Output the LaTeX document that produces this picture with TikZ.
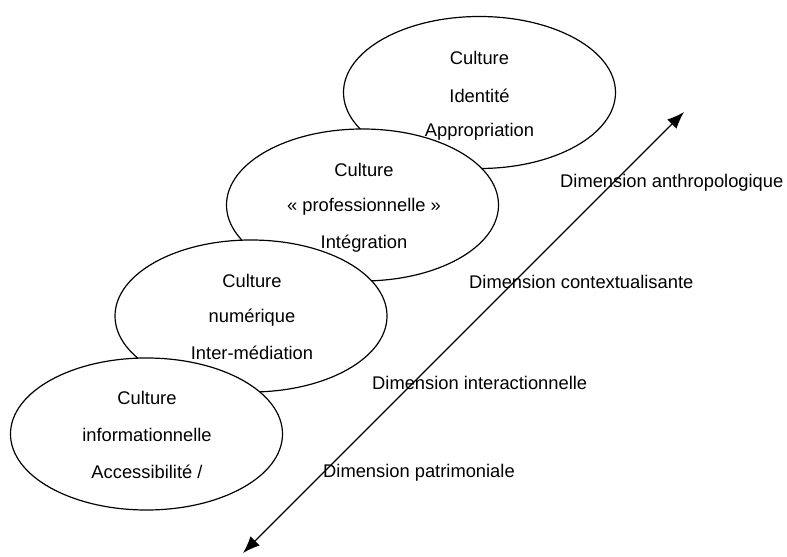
\documentclass[tikz,border=0pt]{standalone}
\usepackage{fontspec}
\setmainfont{Liberation Sans}
\usetikzlibrary{shapes.geometric,arrows.meta}
\begin{document}
\begin{tikzpicture}[x=1bp,y=-1bp,
  blob/.style={draw,fill=white,ellipse,line width=1.2bp,minimum width=272bp,minimum height=152bp,inner sep=0pt},
  lbl/.style={inner sep=0pt,font=\fontsize{18.4}{22}\selectfont},
  dim/.style={lbl,anchor=west},
  axis/.style={line width=1.2bp,{Latex[length=17bp,width=13bp]}-{Latex[length=17bp,width=13bp]}}]
\useasboundingbox (0,0) rectangle (787,557);
\node[blob] (e1) at (479.5,92.5) {};
\node[blob] (e2) at (362.5,205) {};
\node[blob] (e3) at (251,316) {};
\node[blob] (e4) at (146.5,434) {};
\node[lbl] (t1a) at (479.5,58) {Culture};
\node[lbl] (t1b) at (479.5,96) {Identité};
\node[lbl] (t1c) at (479.5,132) {Appropriation};
\node[lbl] (t2a) at (364,170) {Culture};
\node[lbl] (t2b) at (364,207) {« professionnelle »};
\node[lbl] (t2c) at (364,244) {Intégration};
\node[lbl] (t3a) at (252,281) {Culture};
\node[lbl] (t3b) at (252,318) {numérique};
\node[lbl] (t3c) at (252,353) {Inter-médiation};
\node[lbl] (t4a) at (147,398) {Culture};
\node[lbl] (t4b) at (147,435) {informationnelle};
\node[lbl] (t4c) at (147,472) {Accessibilité /};
\node[dim] (d1) at (560,183) {Dimension anthropologique};
\node[dim] (d2) at (469,282) {Dimension contextualisante};
\node[dim] (d3) at (372,383) {Dimension interactionnelle};
\node[dim] (d4) at (323,473) {Dimension patrimoniale};
\coordinate (alow) at (243,553);
\coordinate (ahigh) at (684,112);
\draw[axis] (alow) -- (ahigh);
\end{tikzpicture}
\end{document}
